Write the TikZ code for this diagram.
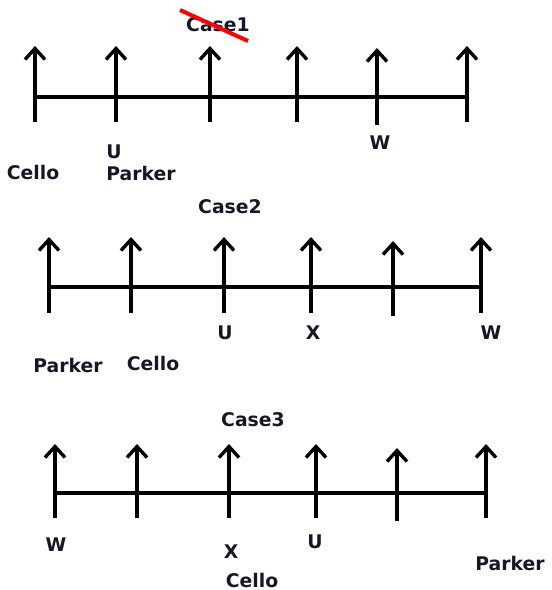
\documentclass[tikz,border=0pt]{standalone}
\usepackage{fontspec}
\setmainfont{DejaVu Sans}
\usetikzlibrary{arrows.meta}

\definecolor{inkdark}{RGB}{22,22,38}

\tikzset{
	tick/.style={line width=1.8pt, -{Straight Barb[length=5.5pt,width=10pt,line width=1.7pt]}},
	axis/.style={line width=1.8pt},
	lbl/.style={font=\bfseries\fontsize{9.4}{11}\selectfont, inner sep=0pt, text=inkdark},
}

\begin{document}
\begin{tikzpicture}[x=0.5pt, y=-0.5pt]
	\useasboundingbox (0,0) rectangle (552,590);
	
	%Case 1
	\node (CaseOne) at (218,25) [lbl]{Case1};
	\coordinate (StrikeA) at (180,10);
	\coordinate (StrikeB) at (248,41);
	\draw[red, line width=2pt] (StrikeA) -- (StrikeB);
	\coordinate (OneL) at (35,97);
	\coordinate (OneR) at (467,97);
	\draw[axis] (OneL) -- (OneR);
	\coordinate (OneA) at (35,122);  \coordinate (OneAt) at (35,46);
	\coordinate (OneB) at (116,122); \coordinate (OneBt) at (116,46);
	\coordinate (OneC) at (210,122); \coordinate (OneCt) at (210,46);
	\coordinate (OneD) at (297,122); \coordinate (OneDt) at (297,46);
	\coordinate (OneE) at (377,125); \coordinate (OneEt) at (377,48);
	\coordinate (OneF) at (467,122); \coordinate (OneFt) at (467,46);
	\draw[tick] (OneA) -- (OneAt);
	\draw[tick] (OneB) -- (OneBt);
	\draw[tick] (OneC) -- (OneCt);
	\draw[tick] (OneD) -- (OneDt);
	\draw[tick] (OneE) -- (OneEt);
	\draw[tick] (OneF) -- (OneFt);
	\node (CelloOne) at (33,172) [lbl]{Cello};
	\node (UOne) at (114,152) [lbl]{U};
	\node (ParkerOne) at (141,173) [lbl]{Parker};
	\node (WOne) at (380,143) [lbl]{W};
	
	%Case 2
	\node (CaseTwo) at (230,207) [lbl]{Case2};
	\coordinate (TwoL) at (49,287);
	\coordinate (TwoR) at (481,287);
	\draw[axis] (TwoL) -- (TwoR);
	\coordinate (TwoA) at (49,313);  \coordinate (TwoAt) at (49,237);
	\coordinate (TwoB) at (131,313); \coordinate (TwoBt) at (131,237);
	\coordinate (TwoC) at (224,313); \coordinate (TwoCt) at (224,237);
	\coordinate (TwoD) at (311,313); \coordinate (TwoDt) at (311,237);
	\coordinate (TwoE) at (393,316); \coordinate (TwoEt) at (393,241);
	\coordinate (TwoF) at (481,313); \coordinate (TwoFt) at (481,237);
	\draw[tick] (TwoA) -- (TwoAt);
	\draw[tick] (TwoB) -- (TwoBt);
	\draw[tick] (TwoC) -- (TwoCt);
	\draw[tick] (TwoD) -- (TwoDt);
	\draw[tick] (TwoE) -- (TwoEt);
	\draw[tick] (TwoF) -- (TwoFt);
	\node (UTwo) at (225,333) [lbl]{U};
	\node (XTwo) at (313,333) [lbl]{X};
	\node (WTwo) at (491,333) [lbl]{W};
	\node (ParkerTwo) at (68,365) [lbl]{Parker};
	\node (CelloTwo) at (153,363) [lbl]{Cello};
	
	%Case 3
	\node (CaseThree) at (253,420) [lbl]{Case3};
	\coordinate (ThreeL) at (55,493);
	\coordinate (ThreeR) at (486,493);
	\draw[axis] (ThreeL) -- (ThreeR);
	\coordinate (ThreeA) at (55,518);  \coordinate (ThreeAt) at (55,444);
	\coordinate (ThreeB) at (137,518); \coordinate (ThreeBt) at (137,444);
	\coordinate (ThreeC) at (229,518); \coordinate (ThreeCt) at (229,444);
	\coordinate (ThreeD) at (316,518); \coordinate (ThreeDt) at (316,444);
	\coordinate (ThreeE) at (397,521); \coordinate (ThreeEt) at (397,448);
	\coordinate (ThreeF) at (486,518); \coordinate (ThreeFt) at (486,444);
	\draw[tick] (ThreeA) -- (ThreeAt);
	\draw[tick] (ThreeB) -- (ThreeBt);
	\draw[tick] (ThreeC) -- (ThreeCt);
	\draw[tick] (ThreeD) -- (ThreeDt);
	\draw[tick] (ThreeE) -- (ThreeEt);
	\draw[tick] (ThreeF) -- (ThreeFt);
	\node (WThree) at (56,545) [lbl]{W};
	\node (XThree) at (231,552) [lbl]{X};
	\node (UThree) at (315,542) [lbl]{U};
	\node (CelloThree) at (252,580) [lbl]{Cello};
	\node (ParkerThree) at (510,563) [lbl]{Parker};
	
\end{tikzpicture}
\end{document}
